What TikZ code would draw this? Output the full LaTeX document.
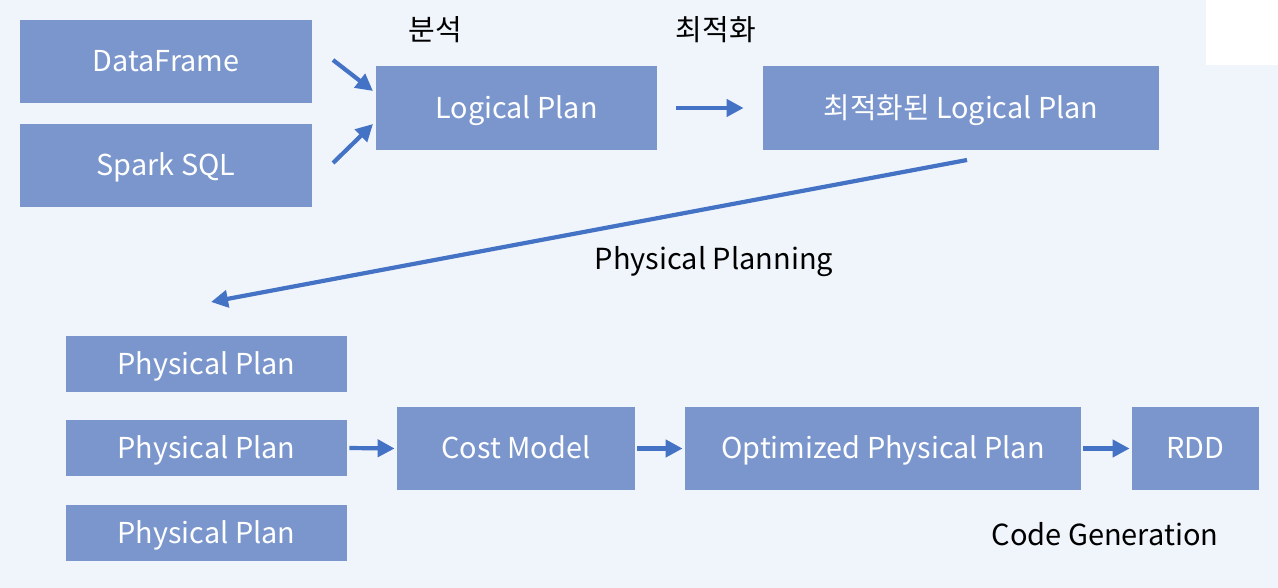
\documentclass[tikz,border=0pt]{standalone}
\usepackage{fontspec}
\setmainfont{Noto Sans CJK KR}
\usepackage{tikz}
\usetikzlibrary{positioning}
\usetikzlibrary{shapes,arrows,calc,arrows.meta}
\definecolor{boxfill}{HTML}{7A96CC}
\definecolor{arrowblue}{HTML}{4472C4}
\definecolor{bgblue}{HTML}{F0F5FC}
\begin{document}
\begin{tikzpicture}[x=0.5pt, y=-0.5pt,
    box/.style={fill=boxfill, text=white, inner sep=0pt, text height=1.23em, text depth=0.22em, font=\fontsize{14.4}{17}\selectfont},
    lbl/.style={text=black, inner sep=0pt, font=\fontsize{14.5}{17}\selectfont},
    flow/.style={-{Triangle[length=8.5pt, width=8.5pt]}, line width=2.1pt, draw=arrowblue}]
        % Background
        \useasboundingbox (0,0) rectangle (1278,588);
        \fill[bgblue] (0,0) rectangle (1278,588);
        \fill[white] (1206,0) rectangle (1278,65);

        % Define the nodes
        \node[box, minimum width=146pt, minimum height=41.5pt] (df) at (166,61.5) {DataFrame};
        \node[box, minimum width=146pt, minimum height=41.5pt] (sql) at (166,165.5) {Spark SQL};
        \node[box, minimum width=140.5pt, minimum height=42pt] (lp) at (516.5,108) {Logical Plan};
        \node[box, minimum width=198pt, minimum height=42pt] (olp) at (961,108) {최적화된 Logical Plan};
        \node[box, minimum width=140.5pt, minimum height=28pt] (pp1) at (206.5,364) {Physical Plan};
        \node[box, minimum width=140.5pt, minimum height=28pt] (pp2) at (206.5,448) {Physical Plan};
        \node[box, minimum width=140.5pt, minimum height=28pt] (pp3) at (206.5,533) {Physical Plan};
        \node[box, minimum width=119pt, minimum height=41.5pt] (cost) at (516,448.5) {Cost Model};
        \node[box, minimum width=198pt, minimum height=41.5pt] (opp) at (883,448.5) {Optimized Physical Plan};
        \node[box, minimum width=63.5pt, minimum height=41.5pt] (rdd) at (1195.5,448.5) {RDD};

        % Labels
        \node[lbl] (analysis) at (435,29.5) {분석};
        \node[lbl] (optim) at (716,29.5) {최적화};
        \node[lbl] (planning) at (714,261.5) {Physical Planning};
        \node[lbl] (codegen) at (1105,534.5) {Code Generation};

        % Free ends
        \coordinate (dfout) at (333,60);
        \coordinate (dfin) at (373,91);
        \coordinate (sqlout) at (333,163);
        \coordinate (sqlin) at (373,124);
        \coordinate (olpout) at (967,160);
        \coordinate (ppin) at (211,302);

        % Draw the links
        \draw[flow] (dfout) -- (dfin);
        \draw[flow] (sqlout) -- (sqlin);
        \draw[flow, shorten <=9.5pt, shorten >=9.5pt] (lp.east) -- (olp.west);
        \draw[flow] (olpout) -- (ppin);
        \draw[flow, shorten <=1pt, shorten >=1pt] (pp2.east) -- (cost.west);
        \draw[flow, shorten <=1pt, shorten >=1pt] (cost.east) -- (opp.west);
        \draw[flow, shorten <=1pt, shorten >=1pt] (opp.east) -- (rdd.west);
    \end{tikzpicture}
\end{document}
